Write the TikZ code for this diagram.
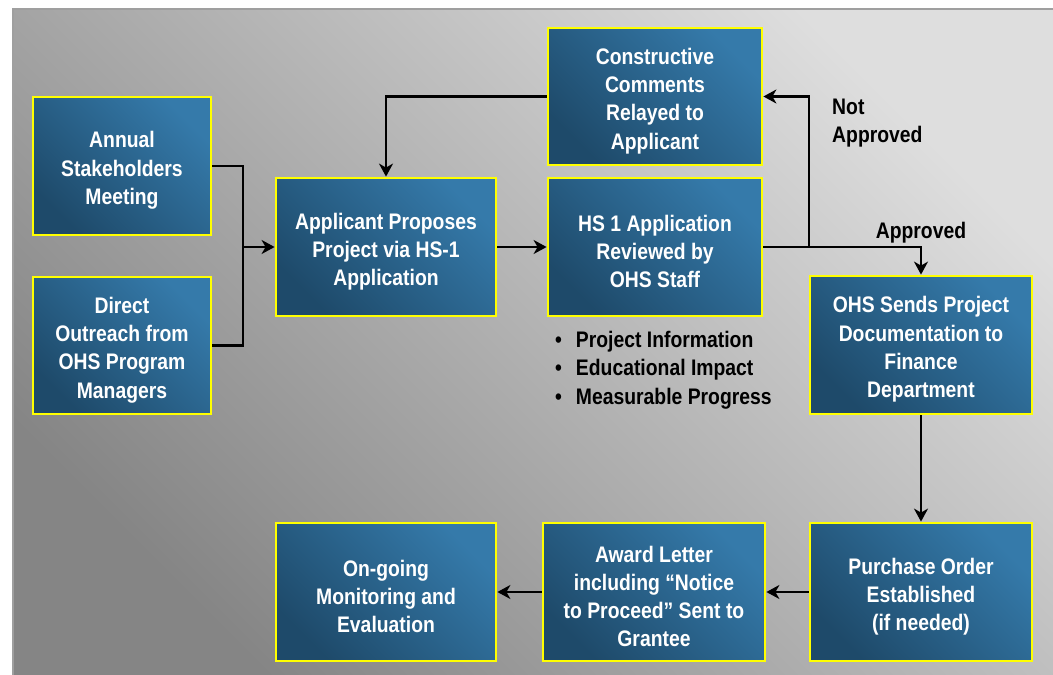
\documentclass[tikz,border=0pt]{standalone}
\usepackage{fontspec}
\setmainfont{Liberation Sans}[FakeStretch=0.86]
\usetikzlibrary{arrows.meta,calc}
\definecolor{boxlight}{HTML}{357AAA}
\definecolor{boxdark}{HTML}{1E4A6A}
\definecolor{bglight}{HTML}{DEDEDE}
\definecolor{bgdark}{HTML}{858585}
\definecolor{bdr}{HTML}{FFFF00}
\tikzset{
  stepbox/.style={draw=bdr, line width=2.8pt, top color=boxlight, bottom color=boxdark, shading angle=-45, inner sep=0pt},
  boxtext/.style={text=white, align=center, font=\bfseries\fontsize{22.5}{28.3}\selectfont, inner sep=0pt, yshift=-4.5pt},
  line/.style={draw=black, line width=2.2pt},
  arr/.style={line, -{Stealth[length=13pt,width=14pt,inset=4pt]}},
  lbl/.style={font=\bfseries\fontsize{22.5}{28.3}\selectfont, text=black, align=left, inner sep=0pt}
}
\begin{document}
\begin{tikzpicture}[x=1pt,y=-1pt]
\useasboundingbox (0,0) rectangle (1053,675);
\fill[white] (0,0) rectangle (1053,675);
\shade[top color=bglight, bottom color=bgdark, shading angle=-45] (12,8) rectangle (1053,675);
\draw[color=gray!75, line width=2pt] (13,675) -- (13,9) -- (1053,9);

\node[stepbox, minimum width=178pt, minimum height=138pt, label={[boxtext]center:{Annual\\Stakeholders\\Meeting}}] (annual) at (122,166) {};
\node[stepbox, minimum width=178pt, minimum height=137pt, label={[boxtext]center:{Direct\\Outreach from\\OHS Program\\Managers}}] (outreach) at (122,345.5) {};
\node[stepbox, minimum width=220pt, minimum height=138pt, label={[boxtext]center:{Applicant Proposes\\Project via HS-1\\Application}}] (applicant) at (386,247) {};
\node[stepbox, minimum width=214pt, minimum height=137pt, label={[boxtext]center:{Constructive\\Comments\\Relayed to\\Applicant}}] (comments) at (655,96.5) {};
\node[stepbox, minimum width=214pt, minimum height=138pt, label={[boxtext]center:{HS 1 Application\\Reviewed by\\OHS Staff}}] (review) at (655,247) {};
\node[stepbox, minimum width=222pt, minimum height=138pt, label={[boxtext]center:{OHS Sends Project\\Documentation to\\Finance\\Department}}] (ohs) at (921,345) {};
\node[stepbox, minimum width=222pt, minimum height=138pt, label={[boxtext]center:{Purchase Order\\Established\\(if needed)}}] (purchase) at (921,592) {};
\node[stepbox, minimum width=222pt, minimum height=138pt, label={[boxtext]center:{Award Letter\\including ``Notice\\to Proceed'' Sent to\\Grantee}}] (award) at (654,592) {};
\node[stepbox, minimum width=220pt, minimum height=138pt, label={[boxtext]center:{On-going\\Monitoring and\\Evaluation}}] (ongoing) at (386,592) {};

\node[lbl, anchor=north west] (notapp) at (832,99) {Not\\Approved};
\node[lbl, anchor=south] (app) at (921,243) {Approved};
\node[lbl, anchor=west] (bullets) at (555,370) {\textbullet\hspace{14pt}Project Information\\\textbullet\hspace{14pt}Educational Impact\\\textbullet\hspace{14pt}Measurable Progress};

\coordinate (join) at (243,247);
\coordinate (split) at (809,247);
\draw[line] (annual.east) -| (join);
\draw[line] (outreach.east) -| (join);
\draw[arr] (join) -- (applicant.west);
\draw[arr] (comments.west) -| (applicant.north);
\draw[arr] (applicant.east) -- (review.west);
\draw[arr] (review.east) -| (ohs.north);
\draw[arr] (split) |- (comments.east);
\draw[arr] (ohs.south) -- (purchase.north);
\draw[arr] (purchase.west) -- (award.east);
\draw[arr] (award.west) -- (ongoing.east);
\end{tikzpicture}
\end{document}
